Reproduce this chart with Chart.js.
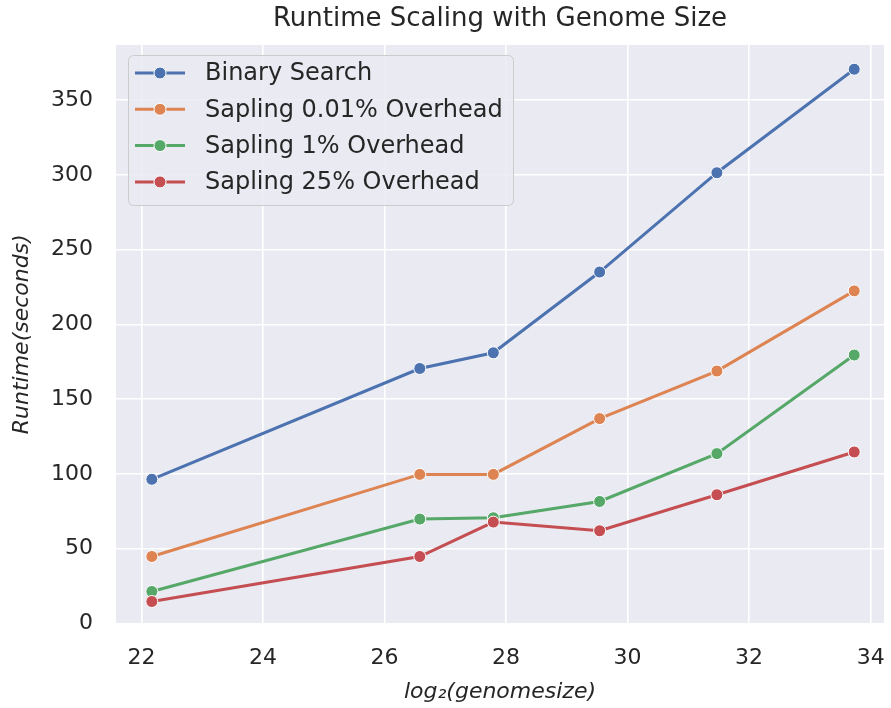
<!DOCTYPE html>
<html>
<head>
<meta charset="utf-8">
<script src="https://cdn.jsdelivr.net/npm/chart.js@4.4.1/dist/chart.umd.min.js"></script>
<style>
  html, body { margin: 0; padding: 0; background: #fff; }
  #wrap { width: 891px; height: 708px; position: relative; }
</style>
</head>
<body>
<div id="wrap"><canvas id="runtimeChart"></canvas></div>
<script>
// values
const genomeSizeLog2 = [22.17, 26.58, 27.79, 29.54, 31.47, 33.73];
const binarySearch = [96.4, 170.5, 181.0, 235.0, 301.4, 370.6];
const sapling001 = [44.8, 99.7, 99.7, 137.0, 168.8, 222.4];
const sapling1 = [21.4, 69.8, 70.7, 81.6, 113.6, 179.5];
const sapling25 = [14.7, 44.8, 67.8, 62.0, 86.1, 114.7];

const seriesNames = ['Binary Search', 'Sapling 0.01% Overhead', 'Sapling 1% Overhead', 'Sapling 25% Overhead'];
const seriesValues = [binarySearch, sapling001, sapling1, sapling25];
const seriesColors = ['#4C72B0', '#DD8452', '#55A868', '#C44E52'];

const xTicks = [22, 24, 26, 28, 30, 32, 34];
const yTicks = [0, 50, 100, 150, 200, 250, 300, 350];

const FONT = "'DejaVu Sans', sans-serif";
const TEXT = '#262626';

// grey plot background like seaborn darkgrid
const plotBg = {
  id: 'plotBg',
  beforeDraw(chart) {
    const { ctx, chartArea: a } = chart;
    ctx.save();
    ctx.fillStyle = '#EAEAF2';
    ctx.fillRect(a.left, a.top, a.right - a.left, a.bottom - a.top);
    ctx.restore();
  }
};

// matplotlib style legend: line + marker handle
const mplLegend = {
  id: 'mplLegend',
  afterDraw(chart) {
    const ctx = chart.ctx;
    const x0 = 128, y0 = 55, w = 385, h = 150, r = 5;
    ctx.save();
    ctx.beginPath();
    ctx.roundRect(x0 + 0.5, y0 + 0.5, w, h, r);
    ctx.fillStyle = 'rgba(234,234,242,0.85)';
    ctx.fill();
    ctx.lineWidth = 1;
    ctx.strokeStyle = '#CCCCCC';
    ctx.stroke();

    ctx.font = '24px ' + FONT;
    ctx.textBaseline = 'middle';
    seriesNames.forEach((name, i) => {
      const y = 73 + i * 36.3;
      ctx.strokeStyle = seriesColors[i];
      ctx.lineWidth = 3;
      ctx.lineCap = 'butt';
      ctx.beginPath();
      ctx.moveTo(135, y);
      ctx.lineTo(185, y);
      ctx.stroke();
      ctx.beginPath();
      ctx.arc(160, y, 6, 0, Math.PI * 2);
      ctx.fillStyle = seriesColors[i];
      ctx.fill();
      ctx.lineWidth = 1;
      ctx.strokeStyle = '#ffffff';
      ctx.stroke();
      ctx.fillStyle = TEXT;
      ctx.fillText(name, 205, y + 1);
    });
    ctx.restore();
  }
};

const ctx = document.getElementById('runtimeChart').getContext('2d');
const runtimeChart = new Chart(ctx, {
  type: 'line',
  data: {
    datasets: seriesNames.map((name, i) => ({
      label: name,
      data: genomeSizeLog2.map((x, j) => ({ x: x, y: seriesValues[i][j] })),
      borderColor: seriesColors[i],
      backgroundColor: seriesColors[i],
      borderWidth: 3,
      pointRadius: 6,
      pointBorderWidth: 1,
      pointBorderColor: '#ffffff',
      pointBackgroundColor: seriesColors[i],
      tension: 0,
      order: seriesNames.length - i
    }))
  },
  options: {
    responsive: true,
    maintainAspectRatio: false,
    devicePixelRatio: 1,
    animation: false,
    layout: { padding: 0 },
    plugins: {
      legend: { display: false },
      tooltip: { enabled: false },
      title: {
        display: true,
        text: 'Runtime Scaling with Genome Size',
        fullSize: false,
        color: TEXT,
        font: { family: FONT, size: 26, weight: 'normal' },
        padding: { top: 4, bottom: 9.8 }
      }
    },
    scales: {
      x: {
        type: 'linear',
        min: 21.58,
        max: 34.22,
        border: { display: false },
        grid: { color: '#ffffff', lineWidth: 1.6, drawTicks: false },
        ticks: {
          includeBounds: false,
          color: TEXT,
          font: { family: FONT, size: 22 },
          padding: 22,
          maxRotation: 0
        },
        afterBuildTicks: axis => { axis.ticks = xTicks.map(v => ({ value: v })); },
        afterFit: scale => { scale.height = 84.5; scale.paddingLeft = 0; scale.paddingRight = 0; },
        title: {
          display: true,
          text: 'log\u2082(genomesize)',
          color: TEXT,
          font: { family: FONT, size: 22, style: 'italic' },
          padding: { top: 0, bottom: 3 }
        }
      },
      y: {
        min: 0,
        max: 386.8,
        border: { display: false },
        grid: { color: '#ffffff', lineWidth: 1.6, drawTicks: false },
        ticks: {
          includeBounds: false,
          color: TEXT,
          font: { family: FONT, size: 22 },
          padding: 23
        },
        afterBuildTicks: axis => { axis.ticks = yTicks.map(v => ({ value: v })); },
        afterFit: scale => { scale.width = 116; },
        title: {
          display: true,
          text: 'Runtime(seconds)',
          color: TEXT,
          font: { family: FONT, size: 22, style: 'italic' },
          padding: { top: 9, bottom: 0 }
        }
      }
    }
  },
  plugins: [plotBg, mplLegend]
});
</script>
</body>
</html>
